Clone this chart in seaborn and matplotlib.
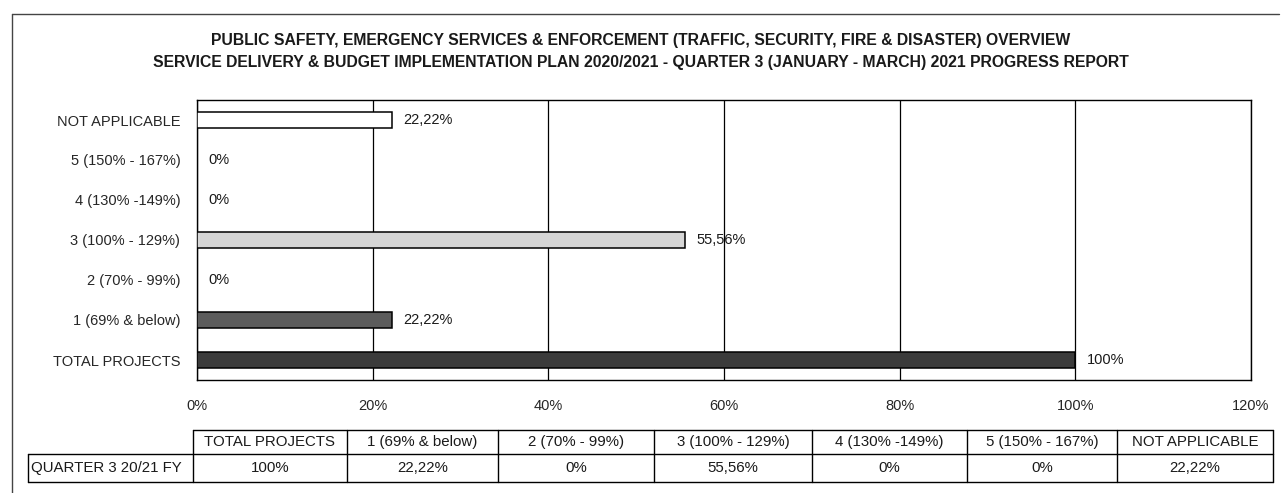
import numpy as np
import pandas as pd
import seaborn as sns
import matplotlib.pyplot as plt
from matplotlib.lines import Line2D

# chart data (top to bottom as drawn)
categories = ["NOT APPLICABLE", "5 (150% - 167%)", "4 (130% -149%)", "3 (100% - 129%)",
              "2 (70% - 99%)", "1 (69% & below)", "TOTAL PROJECTS"]
values = [22.22, 0, 0, 55.56, 0, 22.22, 100]
value_labels = ["22,22%", "0%", "0%", "55,56%", "0%", "22,22%", "100%"]
bar_colors = ["#ffffff", "#ffffff", "#ffffff", "#d6d6d6", "#ffffff", "#5c5c5c", "#3b3b3b"]

# table data
table_header = ["TOTAL PROJECTS", "1 (69% & below)", "2 (70% - 99%)", "3 (100% - 129%)",
                "4 (130% -149%)", "5 (150% - 167%)", "NOT APPLICABLE"]
table_row_label = "QUARTER 3 20/21 FY"
table_values = ["100%", "22,22%", "0%", "55,56%", "0%", "0%", "22,22%"]

title1 = "PUBLIC SAFETY, EMERGENCY SERVICES & ENFORCEMENT (TRAFFIC, SECURITY, FIRE & DISASTER) OVERVIEW"
title2 = "SERVICE DELIVERY & BUDGET IMPLEMENTATION PLAN 2020/2021 - QUARTER 3 (JANUARY - MARCH) 2021 PROGRESS REPORT"

sns.set_style("white")
plt.rcParams['font.family'] = ['Liberation Sans', 'DejaVu Sans']
plt.rcParams['text.color'] = '#1a1a1a'

W, H = 1281, 493
fig = plt.figure(figsize=(W / 100, H / 100), dpi=100)


def fx(px):
    return px / W


def fy(py):
    return 1 - py / H


ax = fig.add_axes([fx(197), fy(380), fx(1251) - fx(197), fy(100) - fy(380)])

df = pd.DataFrame({"cat": categories, "val": values})
sns.barplot(data=df, x="val", y="cat", hue="cat", palette=bar_colors, order=categories,
            orient="h", width=0.42, edgecolor="black", linewidth=1.1, legend=False, ax=ax, zorder=3)

ax.set_xlim(0, 120)
ax.set_ylim(len(categories) - 0.5, -0.5)
ax.set_xticks(np.arange(0, 121, 20))
ax.set_xticklabels([f"{t}%" for t in range(0, 121, 20)], fontsize=10.5)
ax.grid(axis="x", color="black", linewidth=0.9, zorder=0)
ax.set_axisbelow(True)
for s in ax.spines.values():
    s.set_color("black")
    s.set_linewidth(1.0)
ax.set_xlabel("")
ax.set_ylabel("")
ax.tick_params(axis="y", length=0, labelsize=10.5, pad=12)
ax.tick_params(axis="x", length=5, direction="out", color="black", pad=9)
ax.set_yticks(np.arange(-0.5, len(categories), 1), minor=True)
ax.tick_params(axis="y", which="minor", length=5, direction="out", color="black")

for i, (v, lab) in enumerate(zip(values, value_labels)):
    ax.text(v + 1.3, i, lab, va="center", ha="left", fontsize=10.5)

fig.text(0.5, fy(40), title1, ha="center", va="center", fontsize=11.3, fontweight="bold")
fig.text(0.5, fy(62), title2, ha="center", va="center", fontsize=11.3, fontweight="bold")

# table below the chart
col_edges = [193, 347, 498, 654, 812, 967, 1117, 1273]
row_top, row_mid, row_bot = 430, 454, 482
lines = [([col_edges[0], col_edges[-1]], [row_top, row_top]),
         ([28, col_edges[-1]], [row_mid, row_mid]),
         ([28, col_edges[-1]], [row_bot, row_bot]),
         ([28, 28], [row_mid, row_bot])]
for x in col_edges:
    lines.append(([x, x], [row_top, row_bot]))
for xs, ys in lines:
    fig.add_artist(Line2D([fx(v) for v in xs], [fy(v) for v in ys], color="black", linewidth=1.0))

for j in range(len(table_header)):
    cx = (col_edges[j] + col_edges[j + 1]) / 2
    fig.text(fx(cx), fy((row_top + row_mid) / 2), table_header[j], ha="center", va="center", fontsize=10.8)
    fig.text(fx(cx), fy((row_mid + row_bot) / 2), table_values[j], ha="center", va="center", fontsize=10.8)
fig.text(fx(31), fy((row_mid + row_bot) / 2), table_row_label, ha="left", va="center", fontsize=10.8)

# outer frame of the chart object
fig.add_artist(Line2D([fx(12), fx(1279)], [fy(14), fy(14)], color="#444444", linewidth=1.0))
fig.add_artist(Line2D([fx(12), fx(12)], [fy(14), fy(493)], color="#444444", linewidth=1.0))

fig.savefig("out.png", dpi=100)
